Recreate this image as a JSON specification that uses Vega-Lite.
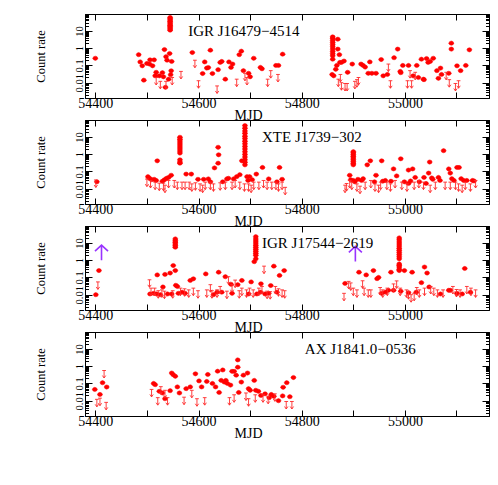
{
"$schema":"https://vega.github.io/schema/vega-lite/v6.json",
"padding":{"left":33,"top":13,"right":5,"bottom":5},
"spacing":22,
"bounds":"flush",
"config":{"view":{"stroke":"black","strokeWidth":1},"axis":{"labelFont":"Liberation Serif","titleFont":"Liberation Serif","domainColor":"black","tickColor":"black","labelColor":"black","titleColor":"black","titleFontWeight":"normal","grid":false}},
"datasets":{"pts":[
{"p":1,"t":"d","x":54400,"y":0.26},{"p":1,"t":"d","x":54484,"y":0.42},{"p":1,"t":"d","x":54487,"y":0.16},{"p":1,"t":"d","x":54491,"y":0.095},{"p":1,"t":"d","x":54494,"y":0.014},{"p":1,"t":"d","x":54500,"y":0.13},{"p":1,"t":"d","x":54505,"y":0.12},{"p":1,"t":"d","x":54506,"y":0.21},{"p":1,"t":"d","x":54511,"y":0.095},{"p":1,"t":"d","x":54514,"y":0.21},{"p":1,"t":"d","x":54516,"y":0.025},{"p":1,"t":"d","x":54518,"y":0.04},{"p":1,"t":"d","x":54524,"y":0.025},{"p":1,"t":"d","x":54530,"y":0.038},{"p":1,"t":"d","x":54532,"y":0.022},{"p":1,"t":"d","x":54534,"y":0.83},{"p":1,"t":"d","x":54536,"y":0.0054},{"p":1,"t":"d","x":54537,"y":0.32},{"p":1,"t":"d","x":54539,"y":0.2},{"p":1,"t":"d","x":54542,"y":0.016},{"p":1,"t":"d","x":54544,"y":0.49},{"p":1,"t":"d","x":54546,"y":0.029},{"p":1,"t":"d","x":54547,"y":0.049},{"p":1,"t":"d","x":54548,"y":0.17},
{"p":1,"t":"d","x":54545,"y":11},{"p":1,"t":"d","x":54545,"y":13},{"p":1,"t":"d","x":54545,"y":15},{"p":1,"t":"d","x":54545,"y":18},{"p":1,"t":"d","x":54545,"y":21},{"p":1,"t":"d","x":54545,"y":25},{"p":1,"t":"d","x":54545,"y":30},{"p":1,"t":"d","x":54545,"y":36},{"p":1,"t":"d","x":54545,"y":43},{"p":1,"t":"d","x":54545,"y":51},{"p":1,"t":"d","x":54545,"y":60},
{"p":1,"t":"d","x":54588,"y":0.56},{"p":1,"t":"d","x":54608,"y":0.034},{"p":1,"t":"d","x":54612,"y":0.16},{"p":1,"t":"d","x":54616,"y":0.07},{"p":1,"t":"d","x":54619,"y":0.075},{"p":1,"t":"d","x":54623,"y":0.76},{"p":1,"t":"d","x":54627,"y":0.034},{"p":1,"t":"d","x":54638,"y":0.057},{"p":1,"t":"d","x":54642,"y":0.15},{"p":1,"t":"d","x":54645,"y":0.17},{"p":1,"t":"d","x":54652,"y":0.016},{"p":1,"t":"d","x":54659,"y":0.16},{"p":1,"t":"d","x":54663,"y":0.077},{"p":1,"t":"d","x":54666,"y":0.12},{"p":1,"t":"d","x":54679,"y":0.42},{"p":1,"t":"d","x":54683,"y":0.67},{"p":1,"t":"d","x":54687,"y":0.05},{"p":1,"t":"d","x":54697,"y":0.035},{"p":1,"t":"d","x":54700,"y":0.022},{"p":1,"t":"d","x":54707,"y":0.26},{"p":1,"t":"d","x":54720,"y":0.077},{"p":1,"t":"d","x":54723,"y":0.064},{"p":1,"t":"d","x":54750,"y":0.1},{"p":1,"t":"d","x":54755,"y":0.1},{"p":1,"t":"d","x":54763,"y":0.45},
{"p":1,"t":"d","x":54860,"y":0.36},{"p":1,"t":"d","x":54860,"y":0.48},{"p":1,"t":"d","x":54860,"y":0.65},{"p":1,"t":"d","x":54860,"y":0.88},{"p":1,"t":"d","x":54860,"y":1.2},{"p":1,"t":"d","x":54860,"y":1.6},{"p":1,"t":"d","x":54860,"y":2.1},{"p":1,"t":"d","x":54860,"y":2.8},{"p":1,"t":"d","x":54860,"y":3.7},{"p":1,"t":"d","x":54860,"y":4.5},
{"p":1,"t":"d","x":54860,"y":0.23},{"p":1,"t":"d","x":54859,"y":0.03},{"p":1,"t":"d","x":54862,"y":0.025},{"p":1,"t":"d","x":54866,"y":0.06},{"p":1,"t":"d","x":54868,"y":0.1},{"p":1,"t":"d","x":54870,"y":3.3},{"p":1,"t":"d","x":54870,"y":0.88},{"p":1,"t":"d","x":54873,"y":0.42},{"p":1,"t":"d","x":54874,"y":0.15},{"p":1,"t":"d","x":54877,"y":0.15},{"p":1,"t":"d","x":54882,"y":0.18},{"p":1,"t":"d","x":54889,"y":0.04},{"p":1,"t":"d","x":54898,"y":0.12},{"p":1,"t":"d","x":54915,"y":0.12},{"p":1,"t":"d","x":54919,"y":0.1},{"p":1,"t":"d","x":54923,"y":0.08},{"p":1,"t":"d","x":54929,"y":0.035},{"p":1,"t":"d","x":54932,"y":0.16},{"p":1,"t":"d","x":54936,"y":0.035},{"p":1,"t":"d","x":54944,"y":0.035},{"p":1,"t":"d","x":54954,"y":0.22},{"p":1,"t":"d","x":54958,"y":0.025},{"p":1,"t":"d","x":54966,"y":0.03},{"p":1,"t":"d","x":54979,"y":0.28},{"p":1,"t":"d","x":54986,"y":0.88},{"p":1,"t":"d","x":54991,"y":0.045},{"p":1,"t":"d","x":54992,"y":0.038},{"p":1,"t":"d","x":54996,"y":0.1},{"p":1,"t":"d","x":55007,"y":0.1},{"p":1,"t":"d","x":55016,"y":0.025},{"p":1,"t":"d","x":55023,"y":0.1},{"p":1,"t":"d","x":55026,"y":0.02},{"p":1,"t":"d","x":55032,"y":0.23},{"p":1,"t":"d","x":55036,"y":0.016},{"p":1,"t":"d","x":55037,"y":0.015},{"p":1,"t":"d","x":55042,"y":0.25},{"p":1,"t":"d","x":55045,"y":0.15},{"p":1,"t":"d","x":55049,"y":0.17},{"p":1,"t":"d","x":55055,"y":0.26},{"p":1,"t":"d","x":55062,"y":0.05},{"p":1,"t":"d","x":55065,"y":0.018},{"p":1,"t":"d","x":55069,"y":0.07},{"p":1,"t":"d","x":55071,"y":0.03},{"p":1,"t":"d","x":55085,"y":0.035},{"p":1,"t":"d","x":55090,"y":1.95},{"p":1,"t":"d","x":55090,"y":0.88},{"p":1,"t":"d","x":55101,"y":0.095},{"p":1,"t":"d","x":55108,"y":0.05},{"p":1,"t":"d","x":55118,"y":0.1},{"p":1,"t":"d","x":55125,"y":0.8},
{"p":1,"t":"u","x":54518,"y":0.02},{"p":1,"t":"u","x":54526,"y":0.012},{"p":1,"t":"u","x":54537,"y":0.012},{"p":1,"t":"u","x":54549,"y":0.02},{"p":1,"t":"u","x":54566,"y":0.045},{"p":1,"t":"u","x":54593,"y":0.2},{"p":1,"t":"u","x":54600,"y":0.013},{"p":1,"t":"u","x":54636,"y":0.0065},{"p":1,"t":"u","x":54674,"y":0.016},{"p":1,"t":"u","x":54690,"y":0.035},{"p":1,"t":"u","x":54694,"y":0.02},{"p":1,"t":"u","x":54734,"y":0.016},{"p":1,"t":"u","x":54740,"y":0.05},{"p":1,"t":"u","x":54754,"y":0.03},{"p":1,"t":"u","x":54871,"y":0.016},{"p":1,"t":"u","x":54875,"y":0.03},{"p":1,"t":"u","x":54877,"y":0.01},{"p":1,"t":"u","x":54884,"y":0.009},{"p":1,"t":"u","x":54888,"y":0.009},{"p":1,"t":"u","x":54903,"y":0.012},{"p":1,"t":"u","x":54907,"y":0.015},{"p":1,"t":"u","x":54910,"y":0.02},{"p":1,"t":"u","x":54968,"y":0.12},{"p":1,"t":"u","x":54972,"y":0.013},{"p":1,"t":"u","x":55005,"y":0.013},{"p":1,"t":"u","x":55010,"y":0.05},{"p":1,"t":"u","x":55013,"y":0.013},{"p":1,"t":"u","x":55020,"y":0.04},{"p":1,"t":"u","x":55080,"y":0.04},{"p":1,"t":"u","x":55086,"y":0.015},{"p":1,"t":"u","x":55098,"y":0.009},{"p":1,"t":"u","x":55104,"y":0.013},
{"p":2,"t":"d","x":54403,"y":0.025},{"p":2,"t":"d","x":54520,"y":0.41},
{"p":2,"t":"d","x":54564,"y":1.15},{"p":2,"t":"d","x":54564,"y":1.5},{"p":2,"t":"d","x":54564,"y":2},{"p":2,"t":"d","x":54564,"y":2.6},{"p":2,"t":"d","x":54564,"y":3.4},{"p":2,"t":"d","x":54564,"y":4.4},{"p":2,"t":"d","x":54564,"y":5.7},{"p":2,"t":"d","x":54564,"y":7.4},{"p":2,"t":"d","x":54564,"y":9.5},{"p":2,"t":"d","x":54564,"y":0.3},{"p":2,"t":"d","x":54564,"y":0.35},{"p":2,"t":"d","x":54564,"y":0.47},
{"p":2,"t":"d","x":54502,"y":0.05},{"p":2,"t":"d","x":54505,"y":0.04},{"p":2,"t":"d","x":54509,"y":0.033},{"p":2,"t":"d","x":54514,"y":0.035},{"p":2,"t":"d","x":54518,"y":0.03},{"p":2,"t":"d","x":54530,"y":0.027},{"p":2,"t":"d","x":54534,"y":0.033},{"p":2,"t":"d","x":54538,"y":0.04},{"p":2,"t":"d","x":54542,"y":0.045},{"p":2,"t":"d","x":54547,"y":0.06},{"p":2,"t":"d","x":54576,"y":0.07},{"p":2,"t":"d","x":54586,"y":0.07},{"p":2,"t":"d","x":54599,"y":0.035},{"p":2,"t":"d","x":54610,"y":0.035},{"p":2,"t":"d","x":54619,"y":0.037},{"p":2,"t":"d","x":54623,"y":0.025},{"p":2,"t":"d","x":54631,"y":0.16},{"p":2,"t":"d","x":54638,"y":2.5},{"p":2,"t":"d","x":54639,"y":0.92},{"p":2,"t":"d","x":54638,"y":0.3},{"p":2,"t":"d","x":54647,"y":0.025},{"p":2,"t":"d","x":54655,"y":0.037},{"p":2,"t":"d","x":54658,"y":0.04},{"p":2,"t":"d","x":54668,"y":0.037},{"p":2,"t":"d","x":54674,"y":0.05},{"p":2,"t":"d","x":54680,"y":0.065},{"p":2,"t":"d","x":54684,"y":0.41},
{"p":2,"t":"d","x":54690,"y":0.24},{"p":2,"t":"d","x":54690,"y":0.34},{"p":2,"t":"d","x":54690,"y":0.48},{"p":2,"t":"d","x":54690,"y":0.68},{"p":2,"t":"d","x":54690,"y":0.97},{"p":2,"t":"d","x":54690,"y":1.4},{"p":2,"t":"d","x":54690,"y":2},{"p":2,"t":"d","x":54690,"y":2.8},{"p":2,"t":"d","x":54690,"y":4},{"p":2,"t":"d","x":54690,"y":5.6},{"p":2,"t":"d","x":54690,"y":8},{"p":2,"t":"d","x":54690,"y":11},{"p":2,"t":"d","x":54690,"y":16},{"p":2,"t":"d","x":54690,"y":22},{"p":2,"t":"d","x":54690,"y":32},{"p":2,"t":"d","x":54690,"y":45},
{"p":2,"t":"d","x":54694,"y":0.05},{"p":2,"t":"d","x":54699,"y":0.05},{"p":2,"t":"d","x":54696,"y":0.03},{"p":2,"t":"d","x":54704,"y":0.033},{"p":2,"t":"d","x":54712,"y":0.07},{"p":2,"t":"d","x":54724,"y":0.17},{"p":2,"t":"d","x":54736,"y":0.037},{"p":2,"t":"d","x":54752,"y":0.025},{"p":2,"t":"d","x":54757,"y":0.17},{"p":2,"t":"d","x":54762,"y":0.035},
{"p":2,"t":"d","x":54893,"y":0.06},
{"p":2,"t":"d","x":54900,"y":0.24},{"p":2,"t":"d","x":54900,"y":0.3},{"p":2,"t":"d","x":54900,"y":0.38},{"p":2,"t":"d","x":54900,"y":0.48},{"p":2,"t":"d","x":54900,"y":0.6},{"p":2,"t":"d","x":54900,"y":0.75},{"p":2,"t":"d","x":54900,"y":0.95},{"p":2,"t":"d","x":54900,"y":1.2},{"p":2,"t":"d","x":54900,"y":1.4},
{"p":2,"t":"d","x":54895,"y":0.033},{"p":2,"t":"d","x":54900,"y":0.03},{"p":2,"t":"d","x":54903,"y":0.025},{"p":2,"t":"d","x":54909,"y":0.035},{"p":2,"t":"d","x":54916,"y":0.03},{"p":2,"t":"d","x":54919,"y":0.038},{"p":2,"t":"d","x":54927,"y":0.24},{"p":2,"t":"d","x":54933,"y":0.41},{"p":2,"t":"d","x":54941,"y":0.025},{"p":2,"t":"d","x":54944,"y":0.06},{"p":2,"t":"d","x":54955,"y":0.41},{"p":2,"t":"d","x":54957,"y":0.027},{"p":2,"t":"d","x":54962,"y":0.03},{"p":2,"t":"d","x":54973,"y":0.027},{"p":2,"t":"d","x":54978,"y":0.14},{"p":2,"t":"d","x":54984,"y":0.055},{"p":2,"t":"d","x":54992,"y":0.54},{"p":2,"t":"d","x":54999,"y":0.025},{"p":2,"t":"d","x":55007,"y":0.12},{"p":2,"t":"d","x":55007,"y":0.02},{"p":2,"t":"d","x":55011,"y":0.028},{"p":2,"t":"d","x":55015,"y":0.14},{"p":2,"t":"d","x":55020,"y":0.045},{"p":2,"t":"d","x":55028,"y":0.025},{"p":2,"t":"d","x":55037,"y":0.045},{"p":2,"t":"d","x":55041,"y":0.02},{"p":2,"t":"d","x":55046,"y":0.08},{"p":2,"t":"d","x":55048,"y":0.35},{"p":2,"t":"d","x":55052,"y":0.042},{"p":2,"t":"d","x":55054,"y":0.035},{"p":2,"t":"d","x":55065,"y":0.045},{"p":2,"t":"d","x":55068,"y":0.03},{"p":2,"t":"d","x":55075,"y":1.6},{"p":2,"t":"d","x":55085,"y":0.14},{"p":2,"t":"d","x":55088,"y":0.08},{"p":2,"t":"d","x":55091,"y":0.038},{"p":2,"t":"d","x":55095,"y":0.03},{"p":2,"t":"d","x":55101,"y":0.17},{"p":2,"t":"d","x":55105,"y":0.17},{"p":2,"t":"d","x":55109,"y":0.038},{"p":2,"t":"d","x":55114,"y":0.03},{"p":2,"t":"d","x":55120,"y":0.03},{"p":2,"t":"d","x":55131,"y":0.03},{"p":2,"t":"d","x":55134,"y":0.028},
{"p":2,"t":"u","x":54401,"y":0.032},{"p":2,"t":"u","x":54500,"y":0.036},{"p":2,"t":"u","x":54507,"y":0.03},{"p":2,"t":"u","x":54516,"y":0.024},{"p":2,"t":"u","x":54524,"y":0.021},{"p":2,"t":"u","x":54532,"y":0.021},{"p":2,"t":"u","x":54535,"y":0.016},{"p":2,"t":"u","x":54542,"y":0.03},{"p":2,"t":"u","x":54553,"y":0.03},{"p":2,"t":"u","x":54559,"y":0.024},{"p":2,"t":"u","x":54568,"y":0.024},{"p":2,"t":"u","x":54574,"y":0.024},{"p":2,"t":"u","x":54582,"y":0.024},{"p":2,"t":"u","x":54587,"y":0.019},{"p":2,"t":"u","x":54594,"y":0.022},{"p":2,"t":"u","x":54603,"y":0.019},{"p":2,"t":"u","x":54608,"y":0.016},{"p":2,"t":"u","x":54613,"y":0.024},{"p":2,"t":"u","x":54623,"y":0.024},{"p":2,"t":"u","x":54629,"y":0.019},{"p":2,"t":"u","x":54642,"y":0.022},{"p":2,"t":"u","x":54652,"y":0.024},{"p":2,"t":"u","x":54665,"y":0.024},{"p":2,"t":"u","x":54671,"y":0.03},{"p":2,"t":"u","x":54680,"y":0.024},{"p":2,"t":"u","x":54689,"y":0.019},{"p":2,"t":"u","x":54697,"y":0.019},{"p":2,"t":"u","x":54702,"y":0.016},{"p":2,"t":"u","x":54707,"y":0.024},{"p":2,"t":"u","x":54717,"y":0.024},{"p":2,"t":"u","x":54726,"y":0.03},{"p":2,"t":"u","x":54733,"y":0.024},{"p":2,"t":"u","x":54742,"y":0.024},{"p":2,"t":"u","x":54750,"y":0.024},{"p":2,"t":"u","x":54755,"y":0.019},{"p":2,"t":"u","x":54762,"y":0.024},{"p":2,"t":"u","x":54768,"y":0.012},
{"p":2,"t":"u","x":54884,"y":0.016},{"p":2,"t":"u","x":54887,"y":0.02},{"p":2,"t":"u","x":54893,"y":0.03},{"p":2,"t":"u","x":54897,"y":0.024},{"p":2,"t":"u","x":54907,"y":0.019},{"p":2,"t":"u","x":54913,"y":0.014},{"p":2,"t":"u","x":54923,"y":0.024},{"p":2,"t":"u","x":54934,"y":0.03},{"p":2,"t":"u","x":54942,"y":0.019},{"p":2,"t":"u","x":54949,"y":0.016},{"p":2,"t":"u","x":54953,"y":0.024},{"p":2,"t":"u","x":54965,"y":0.024},{"p":2,"t":"u","x":54972,"y":0.019},{"p":2,"t":"u","x":54981,"y":0.03},{"p":2,"t":"u","x":54994,"y":0.024},{"p":2,"t":"u","x":55004,"y":0.019},{"p":2,"t":"u","x":55018,"y":0.024},{"p":2,"t":"u","x":55027,"y":0.03},{"p":2,"t":"u","x":55036,"y":0.024},{"p":2,"t":"u","x":55049,"y":0.016},{"p":2,"t":"u","x":55059,"y":0.024},{"p":2,"t":"u","x":55078,"y":0.024},{"p":2,"t":"u","x":55088,"y":0.024},{"p":2,"t":"u","x":55098,"y":0.024},{"p":2,"t":"u","x":55104,"y":0.019},{"p":2,"t":"u","x":55111,"y":0.016},{"p":2,"t":"u","x":55117,"y":0.024},{"p":2,"t":"u","x":55127,"y":0.019},{"p":2,"t":"u","x":55137,"y":0.03},
{"p":3,"t":"d","x":54401,"y":0.01},{"p":3,"t":"d","x":54407,"y":0.25},{"p":3,"t":"d","x":54520,"y":0.14},{"p":3,"t":"d","x":54531,"y":0.028},{"p":3,"t":"d","x":54535,"y":0.15},{"p":3,"t":"d","x":54540,"y":0.011},{"p":3,"t":"d","x":54545,"y":0.18},{"p":3,"t":"d","x":54551,"y":0.49},{"p":3,"t":"d","x":54555,"y":0.25},
{"p":3,"t":"d","x":54555,"y":5.6},{"p":3,"t":"d","x":54555,"y":7},{"p":3,"t":"d","x":54555,"y":8.7},{"p":3,"t":"d","x":54555,"y":11},{"p":3,"t":"d","x":54555,"y":13.5},{"p":3,"t":"d","x":54555,"y":17},
{"p":3,"t":"d","x":54556,"y":0.035},{"p":3,"t":"d","x":54559,"y":0.03},{"p":3,"t":"d","x":54584,"y":0.067},{"p":3,"t":"d","x":54590,"y":0.083},{"p":3,"t":"d","x":54614,"y":0.16},{"p":3,"t":"d","x":54629,"y":0.01},{"p":3,"t":"d","x":54639,"y":0.2},{"p":3,"t":"d","x":54652,"y":0.11},{"p":3,"t":"d","x":54663,"y":0.04},{"p":3,"t":"d","x":54676,"y":0.038},{"p":3,"t":"d","x":54684,"y":0.067},{"p":3,"t":"d","x":54702,"y":0.055},{"p":3,"t":"d","x":54708,"y":0.82},{"p":3,"t":"d","x":54711,"y":1.2},
{"p":3,"t":"d","x":54711,"y":1.9},{"p":3,"t":"d","x":54711,"y":2.5},{"p":3,"t":"d","x":54711,"y":3.3},{"p":3,"t":"d","x":54711,"y":4.3},{"p":3,"t":"d","x":54711,"y":5.6},{"p":3,"t":"d","x":54711,"y":7.4},{"p":3,"t":"d","x":54711,"y":9.7},{"p":3,"t":"d","x":54711,"y":12.7},{"p":3,"t":"d","x":54711,"y":16.7},{"p":3,"t":"d","x":54711,"y":23},
{"p":3,"t":"d","x":54721,"y":0.043},{"p":3,"t":"d","x":54740,"y":0.034},{"p":3,"t":"d","x":54746,"y":0.45},{"p":3,"t":"d","x":54757,"y":0.13},{"p":3,"t":"d","x":54766,"y":0.25},
{"p":3,"t":"d","x":54506,"y":0.011},{"p":3,"t":"d","x":54513,"y":0.012},{"p":3,"t":"d","x":54519,"y":0.011},{"p":3,"t":"d","x":54526,"y":0.01},{"p":3,"t":"d","x":54548,"y":0.011},{"p":3,"t":"d","x":54561,"y":0.012},{"p":3,"t":"d","x":54568,"y":0.014},{"p":3,"t":"d","x":54574,"y":0.012},{"p":3,"t":"d","x":54636,"y":0.014},{"p":3,"t":"d","x":54645,"y":0.014},{"p":3,"t":"d","x":54665,"y":0.012},{"p":3,"t":"d","x":54697,"y":0.011},{"p":3,"t":"d","x":54713,"y":0.011},{"p":3,"t":"d","x":54720,"y":0.014},{"p":3,"t":"d","x":54729,"y":0.011},{"p":3,"t":"d","x":54736,"y":0.012},{"p":3,"t":"d","x":54752,"y":0.014},
{"p":3,"t":"d","x":54884,"y":0.045},{"p":3,"t":"d","x":54911,"y":0.2},{"p":3,"t":"d","x":54925,"y":0.14},{"p":3,"t":"d","x":54939,"y":0.25},{"p":3,"t":"d","x":54946,"y":0.085},{"p":3,"t":"d","x":54949,"y":0.1},{"p":3,"t":"d","x":54973,"y":0.2},
{"p":3,"t":"d","x":54989,"y":0.25},{"p":3,"t":"d","x":54989,"y":0.3},{"p":3,"t":"d","x":54989,"y":0.4},{"p":3,"t":"d","x":54989,"y":0.5},{"p":3,"t":"d","x":54989,"y":0.6},{"p":3,"t":"d","x":54989,"y":1.2},{"p":3,"t":"d","x":54989,"y":1.6},{"p":3,"t":"d","x":54989,"y":2.1},{"p":3,"t":"d","x":54989,"y":2.8},{"p":3,"t":"d","x":54989,"y":3.7},{"p":3,"t":"d","x":54989,"y":4.9},{"p":3,"t":"d","x":54989,"y":6.5},{"p":3,"t":"d","x":54989,"y":8.6},{"p":3,"t":"d","x":54989,"y":11.3},{"p":3,"t":"d","x":54989,"y":15},{"p":3,"t":"d","x":54989,"y":19.5},
{"p":3,"t":"d","x":54992,"y":0.016},{"p":3,"t":"d","x":54999,"y":0.25},{"p":3,"t":"d","x":55014,"y":0.2},{"p":3,"t":"d","x":55032,"y":0.05},{"p":3,"t":"d","x":55038,"y":0.4},{"p":3,"t":"d","x":55043,"y":0.18},{"p":3,"t":"d","x":55047,"y":0.028},{"p":3,"t":"d","x":55085,"y":0.018},{"p":3,"t":"d","x":55116,"y":0.33},
{"p":3,"t":"d","x":54955,"y":0.012},{"p":3,"t":"d","x":54962,"y":0.014},{"p":3,"t":"d","x":54968,"y":0.018},{"p":3,"t":"d","x":54978,"y":0.018},{"p":3,"t":"d","x":55007,"y":0.013},{"p":3,"t":"d","x":55022,"y":0.014},{"p":3,"t":"d","x":55069,"y":0.011},{"p":3,"t":"d","x":55088,"y":0.018},{"p":3,"t":"d","x":55101,"y":0.012},{"p":3,"t":"d","x":55111,"y":0.011},{"p":3,"t":"d","x":55127,"y":0.014},
{"p":3,"t":"u","x":54405,"y":0.055},{"p":3,"t":"u","x":54505,"y":0.073},{"p":3,"t":"u","x":54508,"y":0.024},{"p":3,"t":"u","x":54515,"y":0.024},{"p":3,"t":"u","x":54522,"y":0.017},{"p":3,"t":"u","x":54529,"y":0.019},{"p":3,"t":"u","x":54534,"y":0.016},{"p":3,"t":"u","x":54550,"y":0.017},{"p":3,"t":"u","x":54565,"y":0.024},{"p":3,"t":"u","x":54573,"y":0.022},{"p":3,"t":"u","x":54581,"y":0.019},{"p":3,"t":"u","x":54590,"y":0.024},{"p":3,"t":"u","x":54599,"y":0.017},{"p":3,"t":"u","x":54616,"y":0.019},{"p":3,"t":"u","x":54623,"y":0.038},{"p":3,"t":"u","x":54626,"y":0.017},{"p":3,"t":"u","x":54636,"y":0.019},{"p":3,"t":"u","x":54642,"y":0.03},{"p":3,"t":"u","x":54655,"y":0.016},{"p":3,"t":"u","x":54658,"y":0.11},{"p":3,"t":"u","x":54665,"y":0.038},{"p":3,"t":"u","x":54671,"y":0.07},{"p":3,"t":"u","x":54679,"y":0.017},{"p":3,"t":"u","x":54684,"y":0.024},{"p":3,"t":"u","x":54693,"y":0.019},{"p":3,"t":"u","x":54699,"y":0.024},{"p":3,"t":"u","x":54706,"y":0.019},{"p":3,"t":"u","x":54717,"y":0.024},{"p":3,"t":"u","x":54723,"y":0.03},{"p":3,"t":"u","x":54727,"y":0.45},{"p":3,"t":"u","x":54733,"y":0.016},{"p":3,"t":"u","x":54739,"y":0.015},{"p":3,"t":"u","x":54749,"y":0.03},{"p":3,"t":"u","x":54755,"y":0.022},{"p":3,"t":"u","x":54762,"y":0.019},{"p":3,"t":"u","x":54767,"y":0.017},
{"p":3,"t":"u","x":54882,"y":0.012},{"p":3,"t":"u","x":54891,"y":0.059},{"p":3,"t":"u","x":54895,"y":0.048},{"p":3,"t":"u","x":54900,"y":0.024},{"p":3,"t":"u","x":54907,"y":0.019},{"p":3,"t":"u","x":54918,"y":0.064},{"p":3,"t":"u","x":54921,"y":0.024},{"p":3,"t":"u","x":54929,"y":0.019},{"p":3,"t":"u","x":54934,"y":0.019},{"p":3,"t":"u","x":54952,"y":0.026},{"p":3,"t":"u","x":54957,"y":0.019},{"p":3,"t":"u","x":54966,"y":0.024},{"p":3,"t":"u","x":54978,"y":0.042},{"p":3,"t":"u","x":54984,"y":0.063},{"p":3,"t":"u","x":54991,"y":0.024},{"p":3,"t":"u","x":55003,"y":0.019},{"p":3,"t":"u","x":55007,"y":0.015},{"p":3,"t":"u","x":55012,"y":0.01},{"p":3,"t":"u","x":55018,"y":0.012},{"p":3,"t":"u","x":55023,"y":0.026},{"p":3,"t":"u","x":55028,"y":0.019},{"p":3,"t":"u","x":55038,"y":0.024},{"p":3,"t":"u","x":55050,"y":0.03},{"p":3,"t":"u","x":55056,"y":0.024},{"p":3,"t":"u","x":55063,"y":0.019},{"p":3,"t":"u","x":55074,"y":0.019},{"p":3,"t":"u","x":55093,"y":0.03},{"p":3,"t":"u","x":55100,"y":0.02},{"p":3,"t":"u","x":55107,"y":0.019},{"p":3,"t":"u","x":55120,"y":0.03},{"p":3,"t":"u","x":55128,"y":0.024},{"p":3,"t":"u","x":55137,"y":0.019},
{"p":3,"t":"a","x":54412,"y":1.0},{"p":3,"t":"a","x":54904,"y":0.85},
{"p":4,"t":"d","x":54399,"y":0.045},{"p":4,"t":"d","x":54409,"y":0.023},{"p":4,"t":"d","x":54414,"y":0.11},{"p":4,"t":"d","x":54422,"y":0.062},{"p":4,"t":"d","x":54513,"y":0.1},{"p":4,"t":"d","x":54516,"y":0.085},{"p":4,"t":"d","x":54524,"y":0.035},{"p":4,"t":"d","x":54530,"y":0.028},{"p":4,"t":"d","x":54535,"y":0.013},{"p":4,"t":"d","x":54545,"y":0.038},{"p":4,"t":"d","x":54548,"y":0.4},{"p":4,"t":"d","x":54551,"y":0.32},{"p":4,"t":"d","x":54555,"y":0.26},{"p":4,"t":"d","x":54559,"y":0.063},{"p":4,"t":"d","x":54563,"y":0.028},{"p":4,"t":"d","x":54576,"y":0.05},{"p":4,"t":"d","x":54584,"y":0.063},{"p":4,"t":"d","x":54594,"y":0.36},{"p":4,"t":"d","x":54601,"y":0.14},{"p":4,"t":"d","x":54606,"y":0.063},{"p":4,"t":"d","x":54616,"y":0.13},{"p":4,"t":"d","x":54618,"y":0.33},{"p":4,"t":"d","x":54627,"y":0.1},{"p":4,"t":"d","x":54633,"y":0.063},{"p":4,"t":"d","x":54637,"y":0.51},{"p":4,"t":"d","x":54640,"y":0.03},{"p":4,"t":"d","x":54644,"y":0.15},{"p":4,"t":"d","x":54647,"y":0.6},{"p":4,"t":"d","x":54650,"y":0.12},{"p":4,"t":"d","x":54653,"y":0.15},{"p":4,"t":"d","x":54656,"y":0.1},{"p":4,"t":"d","x":54662,"y":0.08},{"p":4,"t":"d","x":54665,"y":0.5},{"p":4,"t":"d","x":54669,"y":0.5},{"p":4,"t":"d","x":54673,"y":0.3},{"p":4,"t":"d","x":54676,"y":0.87},{"p":4,"t":"d","x":54676,"y":2.3},{"p":4,"t":"d","x":54678,"y":0.03},{"p":4,"t":"d","x":54683,"y":0.12},{"p":4,"t":"d","x":54687,"y":0.3},{"p":4,"t":"d","x":54695,"y":0.4},{"p":4,"t":"d","x":54697,"y":0.05},{"p":4,"t":"d","x":54700,"y":0.04},{"p":4,"t":"d","x":54708,"y":0.15},{"p":4,"t":"d","x":54711,"y":0.04},{"p":4,"t":"d","x":54716,"y":0.035},{"p":4,"t":"d","x":54721,"y":0.02},{"p":4,"t":"d","x":54729,"y":0.025},{"p":4,"t":"d","x":54737,"y":0.015},{"p":4,"t":"d","x":54741,"y":0.023},{"p":4,"t":"d","x":54746,"y":0.018},{"p":4,"t":"d","x":54755,"y":0.01},{"p":4,"t":"d","x":54763,"y":0.019},{"p":4,"t":"d","x":54764,"y":0.06},{"p":4,"t":"d","x":54771,"y":0.11},{"p":4,"t":"d","x":54777,"y":0.017},{"p":4,"t":"d","x":54784,"y":0.22},
{"p":4,"t":"u","x":54403,"y":0.012},{"p":4,"t":"u","x":54409,"y":0.014},{"p":4,"t":"u","x":54417,"y":0.56},{"p":4,"t":"u","x":54421,"y":0.008},{"p":4,"t":"u","x":54509,"y":0.045},{"p":4,"t":"u","x":54521,"y":0.015},{"p":4,"t":"u","x":54527,"y":0.065},{"p":4,"t":"u","x":54535,"y":0.04},{"p":4,"t":"u","x":54540,"y":0.015},{"p":4,"t":"u","x":54572,"y":0.016},{"p":4,"t":"u","x":54587,"y":0.04},{"p":4,"t":"u","x":54597,"y":0.013},{"p":4,"t":"u","x":54612,"y":0.015},{"p":4,"t":"u","x":54660,"y":0.015},{"p":4,"t":"u","x":54669,"y":0.022},{"p":4,"t":"u","x":54692,"y":0.028},{"p":4,"t":"u","x":54697,"y":0.013},{"p":4,"t":"u","x":54710,"y":0.022},{"p":4,"t":"u","x":54725,"y":0.022},{"p":4,"t":"u","x":54735,"y":0.018},{"p":4,"t":"u","x":54748,"y":0.025},{"p":4,"t":"u","x":54770,"y":0.009},{"p":4,"t":"u","x":54781,"y":0.009}
]},
"vconcat":[
{"width":404,"height":84,"resolve":{"axis":{"x":"independent","y":"independent"}},"layer":[
{"data":{"name":"pts"},"transform":[{"filter":"datum.p==1 && datum.t=='d'"}],"mark":{"type":"point","shape":"M-1,0L-0.7,-0.6L0,-0.85L0.7,-0.6L1,0L0.7,0.6L0,0.85L-0.7,0.6Z","filled":true,"fill":"#ff0000","stroke":"#ff0000","strokeWidth":0.5,"size":25,"opacity":1},
"encoding":{"x":{"field":"x","type":"quantitative","scale":{"domain":[54380,55163],"nice":false,"zero":false},"axis":{"values":[54400,54500,54600,54700,54800,54900,55000,55100],"format":"d","labelExpr":"datum.value % 200 == 0 ? datum.label : ''","title":"MJD","titleX":163,"tickSize":-6,"labelPadding":4,"labelFontSize":14,"titleFontSize":14,"titlePadding":-2,"labelFlush":false}},
"y":{"field":"y","type":"quantitative","scale":{"type":"log","domain":[0.0013,95],"nice":false},"axis":{"values":[0.002,0.003,0.004,0.005,0.006,0.007,0.008,0.009,0.01,0.02,0.03,0.04,0.05,0.06,0.07,0.08,0.09,0.1,0.2,0.3,0.4,0.5,0.6,0.7,0.8,0.9,1,2,3,4,5,6,7,8,9,10,20,30,40,50,60,70,80,90],"labelExpr":"(datum.value==0.01||datum.value==0.1||datum.value==1||datum.value==10) ? datum.value+'' : ''","labelOverlap":false,"title":"Count rate","labelAngle":270,"labelAlign":"center","labelBaseline":"bottom","labelFontSize":10.5,"titleFontSize":12.5,"tickSize":{"condition":{"test":"datum.value==0.01||datum.value==0.1||datum.value==1||datum.value==10","value":-7},"value":-3.5},"labelPadding":8,"titlePadding":23}}}},
{"data":{"name":"pts"},"transform":[{"filter":"datum.p==1 && datum.t=='u'"}],"mark":{"type":"point","shape":"M0,0L0,2M-0.45,1.35L0,2L0.45,1.35M-0.5,0L0.5,0","filled":false,"stroke":"#ff2a2a","strokeWidth":0.9,"size":56,"opacity":1},
"encoding":{"x":{"field":"x","type":"quantitative","scale":{"domain":[54380,55163],"nice":false,"zero":false},"axis":null},"y":{"field":"y","type":"quantitative","scale":{"type":"log","domain":[0.0013,95],"nice":false},"axis":null}}},
{"data":{"values":[{}]},"mark":{"type":"text","align":"left","baseline":"middle","font":"Liberation Serif","fontSize":15,"color":"black"},
"encoding":{"text":{"value":"IGR J16479−4514"},"x":{"datum":54580,"type":"quantitative","scale":{"domain":[54380,55163],"nice":false,"zero":false},"axis":{"orient":"top","values":[54400,54500,54600,54700,54800,54900,55000,55100],"labels":false,"title":null,"tickSize":-6}},
"y":{"datum":10,"type":"quantitative","scale":{"type":"log","domain":[0.0013,95],"nice":false},"axis":{"orient":"right","values":[0.002,0.003,0.004,0.005,0.006,0.007,0.008,0.009,0.01,0.02,0.03,0.04,0.05,0.06,0.07,0.08,0.09,0.1,0.2,0.3,0.4,0.5,0.6,0.7,0.8,0.9,1,2,3,4,5,6,7,8,9,10,20,30,40,50,60,70,80,90],"labels":false,"title":null,"tickSize":{"condition":{"test":"datum.value==0.01||datum.value==0.1||datum.value==1||datum.value==10","value":-7},"value":-3.5}}}}}
]},
{"width":404,"height":84,"resolve":{"axis":{"x":"independent","y":"independent"}},"layer":[
{"data":{"name":"pts"},"transform":[{"filter":"datum.p==2 && datum.t=='d'"}],"mark":{"type":"point","shape":"M-1,0L-0.7,-0.6L0,-0.85L0.7,-0.6L1,0L0.7,0.6L0,0.85L-0.7,0.6Z","filled":true,"fill":"#ff0000","stroke":"#ff0000","strokeWidth":0.5,"size":25,"opacity":1},
"encoding":{"x":{"field":"x","type":"quantitative","scale":{"domain":[54380,55163],"nice":false,"zero":false},"axis":{"values":[54400,54500,54600,54700,54800,54900,55000,55100],"format":"d","labelExpr":"datum.value % 200 == 0 ? datum.label : ''","title":"MJD","titleX":163,"tickSize":-6,"labelPadding":4,"labelFontSize":14,"titleFontSize":14,"titlePadding":-2,"labelFlush":false}},
"y":{"field":"y","type":"quantitative","scale":{"type":"log","domain":[0.0013,95],"nice":false},"axis":{"values":[0.002,0.003,0.004,0.005,0.006,0.007,0.008,0.009,0.01,0.02,0.03,0.04,0.05,0.06,0.07,0.08,0.09,0.1,0.2,0.3,0.4,0.5,0.6,0.7,0.8,0.9,1,2,3,4,5,6,7,8,9,10,20,30,40,50,60,70,80,90],"labelExpr":"(datum.value==0.01||datum.value==0.1||datum.value==1||datum.value==10) ? datum.value+'' : ''","labelOverlap":false,"title":"Count rate","labelAngle":270,"labelAlign":"center","labelBaseline":"bottom","labelFontSize":10.5,"titleFontSize":12.5,"tickSize":{"condition":{"test":"datum.value==0.01||datum.value==0.1||datum.value==1||datum.value==10","value":-7},"value":-3.5},"labelPadding":8,"titlePadding":23}}}},
{"data":{"name":"pts"},"transform":[{"filter":"datum.p==2 && datum.t=='u'"}],"mark":{"type":"point","shape":"M0,0L0,2M-0.45,1.35L0,2L0.45,1.35M-0.5,0L0.5,0","filled":false,"stroke":"#ff2a2a","strokeWidth":0.9,"size":56,"opacity":1},
"encoding":{"x":{"field":"x","type":"quantitative","scale":{"domain":[54380,55163],"nice":false,"zero":false},"axis":null},"y":{"field":"y","type":"quantitative","scale":{"type":"log","domain":[0.0013,95],"nice":false},"axis":null}}},
{"data":{"values":[{}]},"mark":{"type":"text","align":"left","baseline":"middle","font":"Liberation Serif","fontSize":15,"color":"black"},
"encoding":{"text":{"value":"XTE J1739−302"},"x":{"datum":54723,"type":"quantitative","scale":{"domain":[54380,55163],"nice":false,"zero":false},"axis":{"orient":"top","values":[54400,54500,54600,54700,54800,54900,55000,55100],"labels":false,"title":null,"tickSize":-6}},
"y":{"datum":10,"type":"quantitative","scale":{"type":"log","domain":[0.0013,95],"nice":false},"axis":{"orient":"right","values":[0.002,0.003,0.004,0.005,0.006,0.007,0.008,0.009,0.01,0.02,0.03,0.04,0.05,0.06,0.07,0.08,0.09,0.1,0.2,0.3,0.4,0.5,0.6,0.7,0.8,0.9,1,2,3,4,5,6,7,8,9,10,20,30,40,50,60,70,80,90],"labels":false,"title":null,"tickSize":{"condition":{"test":"datum.value==0.01||datum.value==0.1||datum.value==1||datum.value==10","value":-7},"value":-3.5}}}}}
]},
{"width":404,"height":84,"resolve":{"axis":{"x":"independent","y":"independent"}},"layer":[
{"data":{"name":"pts"},"transform":[{"filter":"datum.p==3 && datum.t=='d'"}],"mark":{"type":"point","shape":"M-1,0L-0.7,-0.6L0,-0.85L0.7,-0.6L1,0L0.7,0.6L0,0.85L-0.7,0.6Z","filled":true,"fill":"#ff0000","stroke":"#ff0000","strokeWidth":0.5,"size":25,"opacity":1},
"encoding":{"x":{"field":"x","type":"quantitative","scale":{"domain":[54380,55163],"nice":false,"zero":false},"axis":{"values":[54400,54500,54600,54700,54800,54900,55000,55100],"format":"d","labelExpr":"datum.value % 200 == 0 ? datum.label : ''","title":"MJD","titleX":163,"tickSize":-6,"labelPadding":4,"labelFontSize":14,"titleFontSize":14,"titlePadding":-2,"labelFlush":false}},
"y":{"field":"y","type":"quantitative","scale":{"type":"log","domain":[0.0013,95],"nice":false},"axis":{"values":[0.002,0.003,0.004,0.005,0.006,0.007,0.008,0.009,0.01,0.02,0.03,0.04,0.05,0.06,0.07,0.08,0.09,0.1,0.2,0.3,0.4,0.5,0.6,0.7,0.8,0.9,1,2,3,4,5,6,7,8,9,10,20,30,40,50,60,70,80,90],"labelExpr":"(datum.value==0.01||datum.value==0.1||datum.value==1||datum.value==10) ? datum.value+'' : ''","labelOverlap":false,"title":"Count rate","labelAngle":270,"labelAlign":"center","labelBaseline":"bottom","labelFontSize":10.5,"titleFontSize":12.5,"tickSize":{"condition":{"test":"datum.value==0.01||datum.value==0.1||datum.value==1||datum.value==10","value":-7},"value":-3.5},"labelPadding":8,"titlePadding":23}}}},
{"data":{"name":"pts"},"transform":[{"filter":"datum.p==3 && datum.t=='u'"}],"mark":{"type":"point","shape":"M0,0L0,2M-0.45,1.35L0,2L0.45,1.35M-0.5,0L0.5,0","filled":false,"stroke":"#ff2a2a","strokeWidth":0.9,"size":56,"opacity":1},
"encoding":{"x":{"field":"x","type":"quantitative","scale":{"domain":[54380,55163],"nice":false,"zero":false},"axis":null},"y":{"field":"y","type":"quantitative","scale":{"type":"log","domain":[0.0013,95],"nice":false},"axis":null}}},
{"data":{"name":"pts"},"transform":[{"filter":"datum.p==3 && datum.t=='a'"}],"mark":{"type":"point","shape":"M0,0L0,-2M-0.87,-1.2L0,-2L0.87,-1.2","filled":false,"stroke":"#9933ff","strokeWidth":1.6,"size":225,"opacity":1},
"encoding":{"x":{"field":"x","type":"quantitative","scale":{"domain":[54380,55163],"nice":false,"zero":false},"axis":null},"y":{"field":"y","type":"quantitative","scale":{"type":"log","domain":[0.0013,95],"nice":false},"axis":null}}},
{"data":{"values":[{}]},"mark":{"type":"text","align":"left","baseline":"middle","font":"Liberation Serif","fontSize":15,"color":"black"},
"encoding":{"text":{"value":"IGR J17544−2619"},"x":{"datum":54723,"type":"quantitative","scale":{"domain":[54380,55163],"nice":false,"zero":false},"axis":{"orient":"top","values":[54400,54500,54600,54700,54800,54900,55000,55100],"labels":false,"title":null,"tickSize":-6}},
"y":{"datum":10,"type":"quantitative","scale":{"type":"log","domain":[0.0013,95],"nice":false},"axis":{"orient":"right","values":[0.002,0.003,0.004,0.005,0.006,0.007,0.008,0.009,0.01,0.02,0.03,0.04,0.05,0.06,0.07,0.08,0.09,0.1,0.2,0.3,0.4,0.5,0.6,0.7,0.8,0.9,1,2,3,4,5,6,7,8,9,10,20,30,40,50,60,70,80,90],"labels":false,"title":null,"tickSize":{"condition":{"test":"datum.value==0.01||datum.value==0.1||datum.value==1||datum.value==10","value":-7},"value":-3.5}}}}}
]},
{"width":404,"height":84,"resolve":{"axis":{"x":"independent","y":"independent"}},"layer":[
{"data":{"name":"pts"},"transform":[{"filter":"datum.p==4 && datum.t=='d'"}],"mark":{"type":"point","shape":"M-1,0L-0.7,-0.6L0,-0.85L0.7,-0.6L1,0L0.7,0.6L0,0.85L-0.7,0.6Z","filled":true,"fill":"#ff0000","stroke":"#ff0000","strokeWidth":0.5,"size":25,"opacity":1},
"encoding":{"x":{"field":"x","type":"quantitative","scale":{"domain":[54380,55163],"nice":false,"zero":false},"axis":{"values":[54400,54500,54600,54700,54800,54900,55000,55100],"format":"d","labelExpr":"datum.value % 200 == 0 ? datum.label : ''","title":"MJD","titleX":163,"tickSize":-6,"labelPadding":4,"labelFontSize":14,"titleFontSize":14,"titlePadding":-2,"labelFlush":false}},
"y":{"field":"y","type":"quantitative","scale":{"type":"log","domain":[0.0013,95],"nice":false},"axis":{"values":[0.002,0.003,0.004,0.005,0.006,0.007,0.008,0.009,0.01,0.02,0.03,0.04,0.05,0.06,0.07,0.08,0.09,0.1,0.2,0.3,0.4,0.5,0.6,0.7,0.8,0.9,1,2,3,4,5,6,7,8,9,10,20,30,40,50,60,70,80,90],"labelExpr":"(datum.value==0.01||datum.value==0.1||datum.value==1||datum.value==10) ? datum.value+'' : ''","labelOverlap":false,"title":"Count rate","labelAngle":270,"labelAlign":"center","labelBaseline":"bottom","labelFontSize":10.5,"titleFontSize":12.5,"tickSize":{"condition":{"test":"datum.value==0.01||datum.value==0.1||datum.value==1||datum.value==10","value":-7},"value":-3.5},"labelPadding":8,"titlePadding":23}}}},
{"data":{"name":"pts"},"transform":[{"filter":"datum.p==4 && datum.t=='u'"}],"mark":{"type":"point","shape":"M0,0L0,2M-0.45,1.35L0,2L0.45,1.35M-0.5,0L0.5,0","filled":false,"stroke":"#ff2a2a","strokeWidth":0.9,"size":56,"opacity":1},
"encoding":{"x":{"field":"x","type":"quantitative","scale":{"domain":[54380,55163],"nice":false,"zero":false},"axis":null},"y":{"field":"y","type":"quantitative","scale":{"type":"log","domain":[0.0013,95],"nice":false},"axis":null}}},
{"data":{"values":[{}]},"mark":{"type":"text","align":"left","baseline":"middle","font":"Liberation Serif","fontSize":15,"color":"black"},
"encoding":{"text":{"value":"AX J1841.0−0536"},"x":{"datum":54806,"type":"quantitative","scale":{"domain":[54380,55163],"nice":false,"zero":false},"axis":{"orient":"top","values":[54400,54500,54600,54700,54800,54900,55000,55100],"labels":false,"title":null,"tickSize":-6}},
"y":{"datum":10,"type":"quantitative","scale":{"type":"log","domain":[0.0013,95],"nice":false},"axis":{"orient":"right","values":[0.002,0.003,0.004,0.005,0.006,0.007,0.008,0.009,0.01,0.02,0.03,0.04,0.05,0.06,0.07,0.08,0.09,0.1,0.2,0.3,0.4,0.5,0.6,0.7,0.8,0.9,1,2,3,4,5,6,7,8,9,10,20,30,40,50,60,70,80,90],"labels":false,"title":null,"tickSize":{"condition":{"test":"datum.value==0.01||datum.value==0.1||datum.value==1||datum.value==10","value":-7},"value":-3.5}}}}}
]}
]
}
